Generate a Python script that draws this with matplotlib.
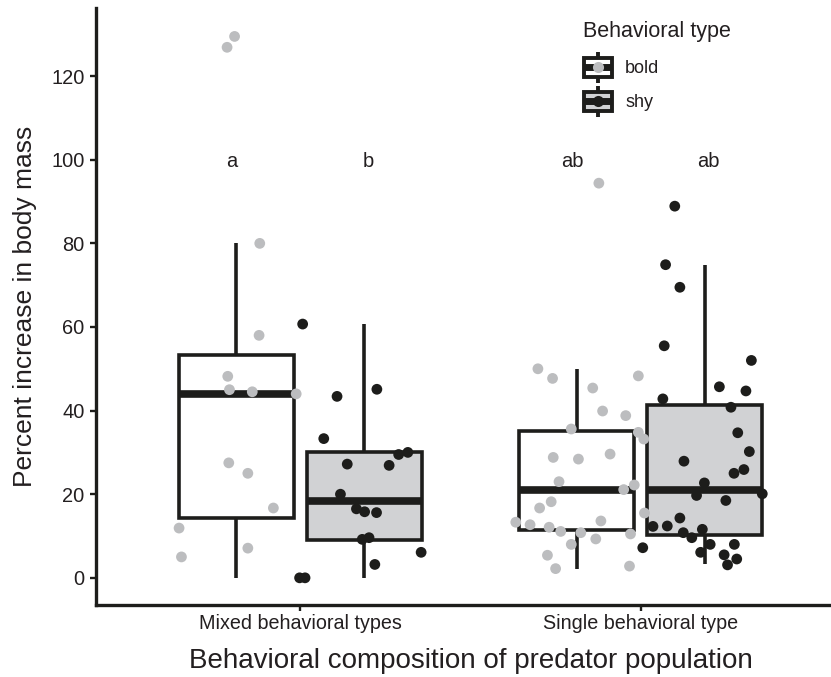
import matplotlib
matplotlib.use("Agg")
import matplotlib.pyplot as plt
from matplotlib.legend_handler import HandlerBase
from matplotlib.patches import Patch, Rectangle
from matplotlib.lines import Line2D

plt.rcParams["font.family"] = ["Liberation Sans", "DejaVu Sans"]

# groups on the x axis
groups = ["Mixed behavioral types", "Single behavioral type"]
types = ["bold", "shy"]
letters = ["a", "b", "ab", "ab"]
letter_y = 100

# box statistics: (whisker low, q1, median, q3, whisker high)
box_mixed_bold = [0.0, 14.2, 44.0, 53.2, 80.0]
box_mixed_shy = [0.0, 9.0, 18.3, 30.0, 60.6]
box_single_bold = [2.0, 11.5, 21.1, 35.2, 50.0]
box_single_shy = [3.3, 10.3, 20.9, 41.4, 74.8]

# raw points (value, jitter offset from the group centre)
mixed_bold_y = [129.5, 126.9, 80.0, 58.0, 48.2, 45.0, 44.5, 44.0, 27.5, 25.0, 16.7, 11.9, 5.0, 7.1]
mixed_bold_x = [-0.193, -0.215, -0.119, -0.121, -0.213, -0.208, -0.141, -0.012, -0.210, -0.154,
                -0.079, -0.356, -0.349, -0.154]

mixed_shy_y = [60.7, 43.4, 45.1, 33.3, 27.2, 26.9, 29.5, 30.0, 20.0, 16.5, 15.8, 15.6, 9.2, 9.6,
               6.1, 3.2, 0.0, 0.0]
mixed_shy_x = [0.007, 0.108, 0.225, 0.069, 0.138, 0.261, 0.289, 0.316, 0.118, 0.165, 0.189, 0.224,
               0.182, 0.202, 0.355, 0.219, -0.002, 0.014]

single_bold_y = [94.4, 50.0, 47.7, 48.3, 45.4, 39.9, 38.8, 35.6, 34.8, 33.2, 28.8, 28.4, 29.6, 23.0,
                 21.1, 22.2, 18.2, 16.7, 15.5, 13.3, 12.7, 12.1, 11.1, 10.8, 13.6, 9.3, 10.5, 8.0,
                 5.4, 2.2, 2.8]
single_bold_x = [-0.123, -0.302, -0.259, -0.007, -0.141, -0.112, -0.044, -0.204, -0.007, 0.009,
                 -0.257, -0.183, -0.090, -0.240, -0.050, -0.019, -0.263, -0.297, 0.011, -0.367,
                 -0.325, -0.269, -0.235, -0.176, -0.117, -0.132, -0.030, -0.204, -0.274, -0.250,
                 -0.033]

single_shy_y = [88.9, 74.9, 69.5, 55.5, 52.0, 45.7, 44.7, 42.8, 40.8, 34.7, 30.2, 27.9, 25.9, 25.0,
                22.7, 19.7, 20.1, 18.5, 14.3, 12.3, 12.4, 10.8, 9.6, 11.6, 8.0, 6.1, 8.0, 5.5, 4.5,
                3.1, 7.2]
single_shy_x = [0.100, 0.073, 0.115, 0.069, 0.325, 0.231, 0.309, 0.065, 0.265, 0.285, 0.319, 0.127,
                0.303, 0.274, 0.187, 0.164, 0.357, 0.250, 0.115, 0.036, 0.078, 0.125, 0.150, 0.181,
                0.204, 0.176, 0.275, 0.245, 0.282, 0.255, 0.006]

INK = "#1d1d1b"
TXT = "#231f20"
POINT_COLORS = {"bold": "#bcbdbf", "shy": "#1d1d1b"}
BOX_FILLS = {"bold": "#ffffff", "shy": "#d1d2d4"}
DODGE = 0.1875
BOX_W = 0.3375
LETTER_DODGE = 0.2
LW = 2.6


class BoxKeyHandler(HandlerBase):
    def __init__(self, dot_color):
        super().__init__()
        self.dot_color = dot_color

    def create_artists(self, legend, orig_handle, xdescent, ydescent, width, height, fontsize, trans):
        cx = width / 2 - xdescent
        cy = height / 2 - ydescent
        bw, bh = width * 0.92, height * 0.62
        whisk = Line2D([cx, cx], [cy - height / 2, cy + height / 2], color=INK, lw=2.8,
                       solid_capstyle="butt", transform=trans)
        box = Rectangle((cx - bw / 2, cy - bh / 2), bw, bh, facecolor=orig_handle.get_facecolor(),
                        edgecolor=INK, lw=2.8, transform=trans)
        med = Line2D([cx - bw / 2, cx + bw / 2], [cy, cy], color=INK, lw=5.0,
                     solid_capstyle="butt", transform=trans)
        dot = Line2D([cx], [cy], marker="o", ms=8, color=self.dot_color, mec="none", transform=trans)
        return [whisk, box, med, dot]


def stats(vals, label):
    lo, q1, med, q3, hi = vals
    return {"whislo": lo, "q1": q1, "med": med, "q3": q3, "whishi": hi, "label": label, "fliers": []}


def main():
    fig = plt.figure(figsize=(8.31, 6.77), dpi=100)
    ax = fig.add_axes([96 / 831, 1 - 605 / 677, 749 / 831, 597 / 677])

    boxes = {("Mixed behavioral types", "bold"): box_mixed_bold,
             ("Mixed behavioral types", "shy"): box_mixed_shy,
             ("Single behavioral type", "bold"): box_single_bold,
             ("Single behavioral type", "shy"): box_single_shy}
    points = {("Mixed behavioral types", "bold"): (mixed_bold_x, mixed_bold_y),
              ("Mixed behavioral types", "shy"): (mixed_shy_x, mixed_shy_y),
              ("Single behavioral type", "bold"): (single_bold_x, single_bold_y),
              ("Single behavioral type", "shy"): (single_shy_x, single_shy_y)}

    letter_pos = []
    for gi, g in enumerate(groups, start=1):
        for t, sign in zip(types, (-1, 1)):
            pos = gi + sign * DODGE
            letter_pos.append(gi + sign * LETTER_DODGE)
            ax.bxp([stats(boxes[(g, t)], t)], positions=[pos], widths=BOX_W, showcaps=False,
                   showfliers=False, patch_artist=True,
                   boxprops=dict(facecolor=BOX_FILLS[t], edgecolor=INK, linewidth=LW),
                   whiskerprops=dict(color=INK, linewidth=LW, solid_capstyle="butt"),
                   medianprops=dict(color=INK, linewidth=5.5, solid_capstyle="butt"),
                   zorder=2)
    for gi, g in enumerate(groups, start=1):
        for t in types:
            xs, ys = points[(g, t)]
            ax.scatter([gi + x for x in xs], ys, s=60, color=POINT_COLORS[t], edgecolors="none",
                       zorder=3)

    for pos, lab in zip(letter_pos, letters):
        ax.text(pos, letter_y, lab, ha="center", va="center_baseline", fontsize=14.5, color=TXT)

    ax.set_xlim(0.4, 2.6)
    ax.set_ylim(-6.5, 136.3)
    ax.set_xticks([1, 2])
    ax.set_xticklabels(groups)
    ax.set_yticks([0, 20, 40, 60, 80, 100, 120])
    ax.tick_params(axis="y", labelsize=14.4, labelcolor=TXT, length=4.3, width=1.7, color=INK, pad=4)
    ax.tick_params(axis="x", labelsize=14.2, labelcolor=TXT, length=4.3, width=1.7, color=INK, pad=2)
    for side in ("top", "right"):
        ax.spines[side].set_visible(False)
    for side in ("left", "bottom"):
        ax.spines[side].set_linewidth(2.4)
        ax.spines[side].set_color(INK)
    ax.set_ylabel("Percent increase in body mass", fontsize=19, color=TXT, labelpad=10.5)
    ax.set_xlabel("Behavioral composition of predator population", fontsize=20, color=TXT,
                  labelpad=11)

    fig.text(582.7 / 831, 1 - 36.7 / 677, "Behavioral type", ha="left", va="baseline",
             fontsize=15.5, color=TXT)
    handles = [Patch(facecolor=BOX_FILLS[t]) for t in types]
    fig.legend(handles, types, loc="upper left",
               bbox_to_anchor=(582.7 / 831, 1 - 51.7 / 677), bbox_transform=fig.transFigure,
               frameon=False, fontsize=13, borderpad=0, borderaxespad=0,
               handlelength=1.7, handleheight=2.26, labelspacing=0.17, handletextpad=0.65,
               labelcolor=TXT,
               handler_map={handles[0]: BoxKeyHandler(POINT_COLORS["bold"]),
                            handles[1]: BoxKeyHandler(POINT_COLORS["shy"])})

    fig.savefig("out.png", dpi=100)
    plt.close(fig)


if __name__ == "__main__":
    main()
